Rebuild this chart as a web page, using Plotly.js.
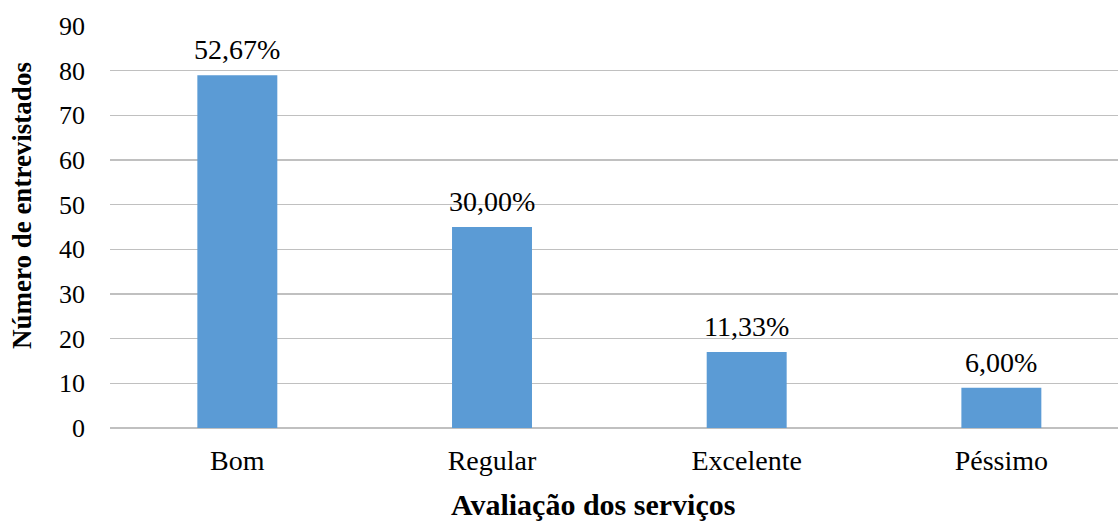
<!DOCTYPE html>
<html>
<head>
<meta charset="utf-8">
<script src="https://cdn.plot.ly/plotly-3.0.1.min.js"></script>
<style>
  html, body { margin: 0; padding: 0; background: #ffffff; }
  #chart { width: 1118px; height: 522px; }
</style>
</head>
<body>
<div id="chart"></div>
<script>
// Avaliação dos serviços — number of interviewees per rating
const categories = ['Bom', 'Regular', 'Excelente', 'Péssimo'];
const counts = [79, 45, 17, 9];
const yTickValues = [0, 10, 20, 30, 40, 50, 60, 70, 80, 90];

const total = counts.reduce((a, b) => a + b, 0);
const pctLabels = counts.map(c => (c / total * 100).toFixed(2).replace('.', ',') + '%');

const serif = 'Liberation Serif';

const trace = {
  type: 'bar',
  x: categories,
  y: counts,
  width: 0.314,
  marker: { color: '#5B9BD5', line: { width: 0 } },
  hoverinfo: 'x+y'
};

const labelAnnotations = categories.map((c, i) => ({
  x: c, y: counts[i], xref: 'x', yref: 'y',
  text: pctLabels[i], showarrow: false,
  yanchor: 'bottom', yshift: 8,
  font: { family: serif, size: 28, color: '#000000' }
}));

const layout = {
  width: 1118, height: 522,
  margin: { l: 110, r: 0, t: 26, b: 94 },
  paper_bgcolor: '#ffffff', plot_bgcolor: '#ffffff',
  showlegend: false,
  font: { family: serif, color: '#000000' },
  xaxis: {
    type: 'category',
    range: [-0.5, 3.458],
    showgrid: false, showline: false, zeroline: false,
    ticks: '',
    ticklabelstandoff: 13,
    tickfont: { family: serif, size: 28, color: '#000000' },
    fixedrange: true
  },
  yaxis: {
    range: [0, 90],
    tickvals: yTickValues,
    ticktext: yTickValues.map(String),
    showgrid: true, gridcolor: '#c0c0c0', gridwidth: 1.3,
    zeroline: true, zerolinecolor: '#c0c0c0', zerolinewidth: 1.3,
    showline: false, ticks: '',
    ticklabelstandoff: 24,
    tickfont: { family: serif, size: 26, color: '#000000' },
    fixedrange: true
  },
  annotations: labelAnnotations.concat([
    {
      text: '<b>Avaliação dos serviços</b>',
      xref: 'paper', yref: 'paper', x: 0.479, y: -0.1915,
      xanchor: 'center', yanchor: 'middle', showarrow: false,
      font: { family: serif, size: 30, color: '#000000' }
    },
    {
      text: '<b>Número de entrevistados</b>',
      xref: 'paper', yref: 'paper', x: -0.0873, y: 0.552,
      xanchor: 'center', yanchor: 'middle', showarrow: false,
      textangle: -90,
      font: { family: serif, size: 27, color: '#000000' }
    }
  ])
};

Plotly.newPlot('chart', [trace], layout, { displayModeBar: false, staticPlot: true });
</script>
</body>
</html>
